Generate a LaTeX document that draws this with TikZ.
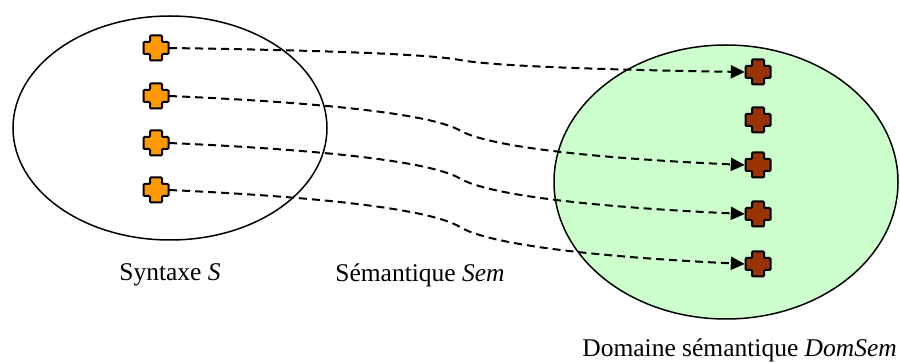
\documentclass[tikz,border=0pt]{standalone}
\usepackage{fontspec}
\setmainfont{Liberation Serif}
\usetikzlibrary{arrows.meta}
\definecolor{orangeX}{HTML}{FF9900}
\definecolor{brownX}{HTML}{993300}
\definecolor{greenX}{HTML}{CCFFCC}
\tikzset{
  pics/plus/.style={code={
    \draw[pic actions, line width=2pt, rounded corners=1pt]
      (-6,-12.5) -- (6,-12.5) -- (6,-6) -- (12.5,-6) -- (12.5,6) -- (6,6) -- (6,12.5)
      -- (-6,12.5) -- (-6,6) -- (-12.5,6) -- (-12.5,-6) -- (-6,-6) -- cycle;
  }},
  anchorbox/.style={draw=none, minimum size=26pt, inner sep=0pt},
  link/.style={dash pattern=on 8pt off 5pt, line width=2pt, -{Triangle[length=14pt,width=13pt]}},
  lbl/.style={font=\fontsize{25.5}{30}\selectfont, inner sep=0pt},
  set/.style={draw=black, line width=1.5pt}
}
\newcommand{\sigcurve}[4]{% from node #1 (y #2) to node #3 (y #4)
  \pgfmathsetmacro{\D}{#4-#2}
  \draw[link] (#1.east) .. controls (330,{#2+0.1*\D}) and (432,{#2+0.27*\D})
    .. (460,{#2+0.5*\D}) .. controls (488,{#2+0.73*\D}) and (590,{#2+0.9*\D}) .. (#3.west);
}
\begin{document}
\begin{tikzpicture}[x=1pt,y=-1pt]
\useasboundingbox (0,0) rectangle (900,363);
\draw[set] (170,128) ellipse [x radius=157, y radius=112];
\draw[set, fill=greenX] (726,182) ellipse [x radius=172, y radius=137];
% source nodes
\foreach \i/\y in {1/48,2/96,3/143,4/190}{
  \node[anchorbox] (o\i) at (156,\y) {};
  \pic[fill=orangeX] at (o\i) {plus};
}
% target nodes
\foreach \i/\y in {1/72,2/120,3/165,4/214,5/264}{
  \node[anchorbox] (b\i) at (758,\y) {};
  \pic[fill=brownX] at (b\i) {plus};
}
\sigcurve{o1}{48}{b1}{72}
\sigcurve{o2}{96}{b3}{165}
\sigcurve{o3}{143}{b4}{214}
\sigcurve{o4}{190}{b5}{264}
\node[lbl] (t1) at (170,275) {Syntaxe \textit{S}};
\node[lbl] (t2) at (420,275) {Sémantique \textit{Sem}};
\node[lbl, anchor=east] (t3) at (897,350) {Domaine sémantique \textit{DomSem}};
\end{tikzpicture}
\end{document}
